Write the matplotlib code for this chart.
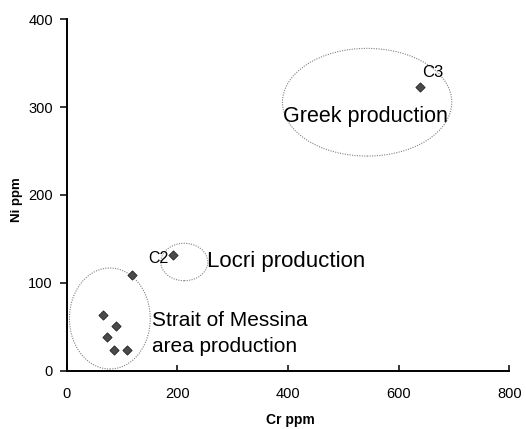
import matplotlib
matplotlib.use("Agg")
import matplotlib.pyplot as plt
from matplotlib.patches import Ellipse

plt.rcParams['font.family'] = ['Liberation Sans', 'DejaVu Sans']

# Data
cr = [66, 89, 72, 86, 109, 118, 192, 639]
ni = [63.5, 50.4, 37.9, 23.8, 23.8, 109, 132, 322.6]

# Group ellipses: (center Cr, center Ni, width Cr, height Ni)
groups = [
    (78, 59.4, 146, 115),
    (212.5, 123.7, 85, 42.6),
    (543, 305.6, 306, 122.6),
]

x_ticks = [0, 200, 400, 600, 800]
y_ticks = [0, 100, 200, 300, 400]

fig = plt.figure(figsize=(5.26, 4.29), dpi=100)
ax = fig.add_axes([66.7/526, 1 - 370.7/429, (509.3-66.7)/526, (370.7-19.3)/429])

ax.scatter(cr, ni, marker='D', s=22, color='#4a4a4a', edgecolors='#222222',
           linewidths=0.6, zorder=3)

for cx, cy, w, h in groups:
    ax.add_patch(Ellipse((cx, cy), w, h, fill=False, edgecolor='#808080',
                         linestyle=(0, (1, 1.2)), linewidth=0.8, zorder=2))

ax.set_xlim(0, 800)
ax.set_ylim(0, 400)
ax.set_xticks(x_ticks)
ax.set_yticks(y_ticks)

for s in ['top', 'right']:
    ax.spines[s].set_visible(False)
for s in ['left', 'bottom']:
    ax.spines[s].set_linewidth(1.4)
    ax.spines[s].set_color('black')

ax.tick_params(axis='y', direction='out', length=5, width=1.1, pad=5, labelsize=10.5)
ax.tick_params(axis='x', direction='in', length=4, width=1.1, pad=12, labelsize=10.5)

ax.text(642.5, 334.7, 'C3', fontsize=12, va='baseline', ha='left')
ax.text(391, 283.4, 'Greek production', fontsize=15.5, va='baseline', ha='left')
ax.text(147, 122.6, 'C2', fontsize=11.5, va='baseline', ha='left')
ax.text(253.7, 118.4, 'Locri production', fontsize=16, va='baseline', ha='left')
ax.text(153.7, 50.9, 'Strait of Messina', fontsize=15, va='baseline', ha='left')
ax.text(153.7, 21.3, 'area production', fontsize=15, va='baseline', ha='left')

fig.text(290/526, 1 - 420/429, 'Cr ppm', fontsize=10, fontweight='bold',
         ha='center', va='center')
fig.text(17/526, 1 - 200/429, 'Ni ppm', fontsize=9.5, fontweight='bold',
         ha='center', va='center', rotation=90)

fig.savefig('out.png', dpi=100)
